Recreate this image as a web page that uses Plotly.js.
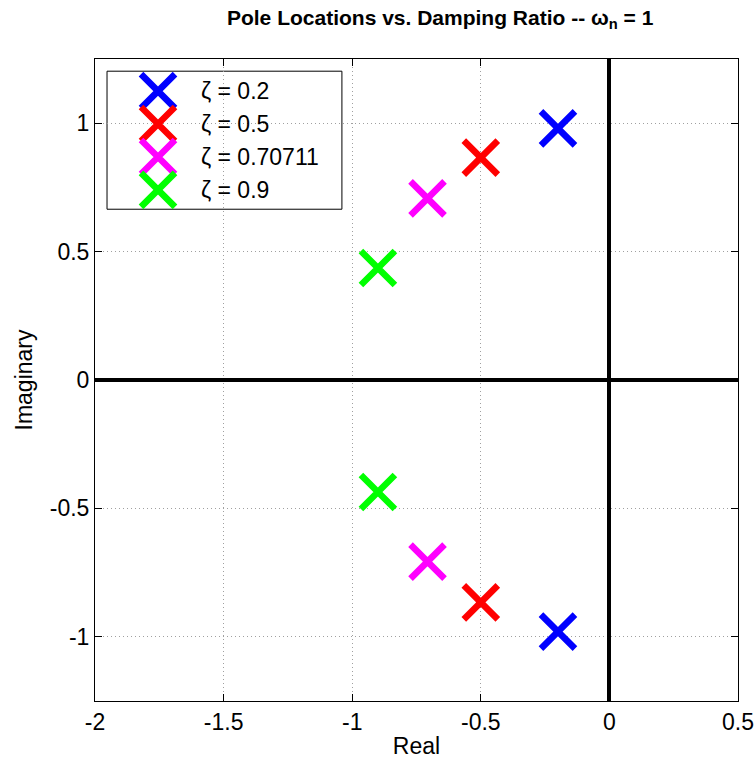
<!DOCTYPE html>
<html>
<head>
<meta charset="utf-8">
<script src="https://cdn.plot.ly/plotly-3.0.1.min.js"></script>
<style>html,body{margin:0;padding:0;background:#fff;}#chart{width:755px;height:766px;}</style>
</head>
<body>
<div id="chart"></div>
<script>
// Data
const zetaLabels = ['0.2', '0.5', '0.70711', '0.9'];
const realParts = [-0.2, -0.5, -0.70711, -0.9];
const imagParts = [0.9798, 0.866, 0.70711, 0.4359];
const colors = ['#0000ff', '#ff0000', '#ff00ff', '#00ff00'];
const xTicks = [-2, -1.5, -1, -0.5, 0, 0.5];
const yTicks = [-1, -0.5, 0, 0.5, 1];

const FONT = 'Liberation Sans, Arial, sans-serif';
const MSIZE = 34, MLW = 6.5;

const traces = [];
zetaLabels.forEach((z, i) => {
  traces.push({
    type: 'scatter', mode: 'markers',
    x: [realParts[i], realParts[i]],
    y: [imagParts[i], -imagParts[i]],
    marker: {symbol: 'x-thin', size: MSIZE, line: {color: colors[i], width: MLW}, color: colors[i]},
    showlegend: false, hoverinfo: 'x+y', name: 'ζ = ' + z
  });
});

// Custom legend (layout in paper-like units on an overlay axis)
const legX0 = 0.0187, legX1 = 0.384, legY0 = 0.766, legY1 = 0.981;
const rowY = i => 0.950 - i * 0.0513;
const annotations = [];
zetaLabels.forEach((z, i) => {
  traces.push({
    type: 'scatter', mode: 'markers', xaxis: 'x2', yaxis: 'y2',
    x: [0.098], y: [rowY(i)],
    marker: {symbol: 'x-thin', size: MSIZE, line: {color: colors[i], width: MLW}, color: colors[i]},
    showlegend: false, hoverinfo: 'skip'
  });
  annotations.push({
    xref: 'x2', yref: 'y2', x: 0.162, y: rowY(i), xanchor: 'left', yanchor: 'middle',
    text: 'ζ = ' + z, showarrow: false, font: {family: FONT, size: 23, color: '#000'}
  });
});

const layout = {
  width: 755, height: 766,
  margin: {l: 95, r: 17, t: 59, b: 65},
  paper_bgcolor: '#fff', plot_bgcolor: '#fff',
  font: {family: FONT, color: '#000', size: 23},
  title: {
    text: '<b>Pole Locations vs. Damping Ratio -- ω<sub>n</sub> = 1</b>',
    font: {family: FONT, size: 21, color: '#000'},
    x: 0.583, xanchor: 'center', y: 0.977, yanchor: 'middle'
  },
  xaxis: {
    range: [-2, 0.5], tickvals: xTicks, ticktext: xTicks.map(String),
    ticks: 'inside', ticklen: 7, tickcolor: '#000', showline: true, linecolor: '#000', linewidth: 1,
    mirror: 'ticks', showgrid: true, gridcolor: '#a0a0a0', griddash: '1px,3px', gridwidth: 1,
    zeroline: true, zerolinecolor: '#000', zerolinewidth: 4,
    title: {text: 'Real', font: {family: FONT, size: 23}, standoff: 4},
    tickfont: {family: FONT, size: 23}, fixedrange: true
  },
  yaxis: {
    range: [-1.25, 1.25], tickvals: yTicks, ticktext: yTicks.map(String),
    ticks: 'inside', ticklen: 7, tickcolor: '#000', showline: true, linecolor: '#000', linewidth: 1,
    mirror: 'ticks', showgrid: true, gridcolor: '#a0a0a0', griddash: '1px,3px', gridwidth: 1,
    zeroline: true, zerolinecolor: '#000', zerolinewidth: 4,
    title: {text: 'Imaginary', font: {family: FONT, size: 23}, standoff: 10},
    tickfont: {family: FONT, size: 23}, fixedrange: true
  },
  xaxis2: {overlaying: 'x', range: [0, 1], visible: false, fixedrange: true, anchor: 'y2'},
  yaxis2: {overlaying: 'y', range: [0, 1], visible: false, fixedrange: true, anchor: 'x2'},
  shapes: [{
    type: 'rect', xref: 'paper', yref: 'paper', x0: legX0, x1: legX1, y0: legY0, y1: legY1,
    line: {color: '#000', width: 1}, fillcolor: '#fff', layer: 'between'
  }],
  annotations: annotations,
  showlegend: false
};

Plotly.newPlot('chart', traces, layout, {displayModeBar: false, staticPlot: true});
</script>
</body>
</html>
